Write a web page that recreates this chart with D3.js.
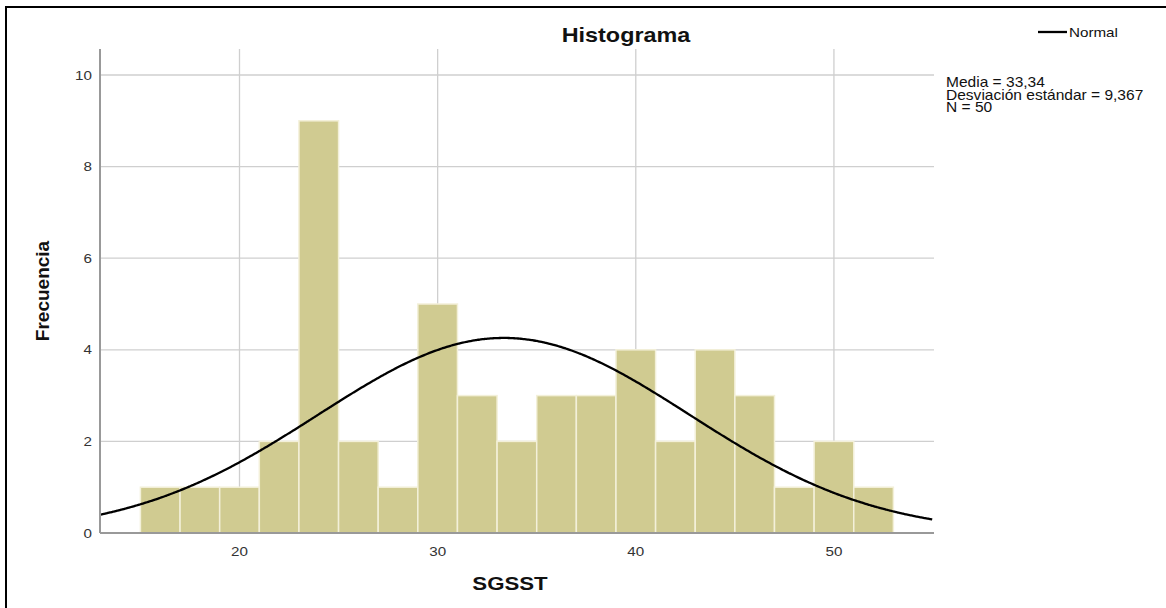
<!DOCTYPE html>
<html><head><meta charset="utf-8">
<script src="https://cdn.jsdelivr.net/npm/d3@7"></script>
<style>body{margin:0;background:#fff}svg{display:block}text{font-family:"Liberation Sans",Arial,sans-serif}</style>
</head><body>
<svg id="c" width="1166" height="608"></svg>
<script>
const binStarts = [15,17,19,21,23,25,27,29,31,33,35,37,39,41,43,45,47,49,51];
const counts    = [1,1,1,2,9,2,1,5,3,2,3,3,4,2,4,3,1,2,1];
const binWidth = 2;
const xTicks = [20,30,40,50];
const yTicks = [0,2,4,6,8,10];
const mean = 33.34, sd = 9.367, n = 50;
const statsLines = ["Media = 33,34","Desviación estándar = 9,367","N = 50"];

const SX = 1.17; // horizontal text stretch seen in the reference
const svg = d3.select("#c");
const L=100, R=934, T=49, B=533;
const x = d3.scaleLinear().domain([12.96,55.05]).range([L,R]);
const y = d3.scaleLinear().domain([0,10]).range([B,75]);

function txt(px, py, s, opts={}) {
  const t = svg.append("text")
    .attr("transform", `translate(${px},${py}) scale(${opts.sx||SX},1)`)
    .attr("text-anchor", opts.anchor||"start")
    .attr("font-size", opts.size||13)
    .attr("fill", opts.fill||"#111")
    .text(s);
  if (opts.bold) t.attr("font-weight","bold");
  return t;
}

// frame
svg.append("path").attr("d","M6,608 L6,7 L1166,7").attr("fill","none").attr("stroke","#000").attr("stroke-width",2);

// grid
const g = svg.append("g");
g.selectAll(".gy").data(yTicks.filter(d=>d>0)).join("line")
 .attr("x1",L).attr("x2",R).attr("y1",d=>y(d)).attr("y2",d=>y(d))
 .attr("stroke","#cfcfcf").attr("stroke-width",1.3);
g.selectAll(".gx").data(xTicks).join("line")
 .attr("x1",d=>x(d)).attr("x2",d=>x(d)).attr("y1",T).attr("y2",B)
 .attr("stroke","#cfcfcf").attr("stroke-width",1.3);

// bars
svg.append("g").selectAll("rect").data(binStarts).join("rect")
 .attr("x",(d)=>x(d)).attr("width",(d)=>x(d+binWidth)-x(d))
 .attr("y",(d,i)=>y(counts[i])).attr("height",(d,i)=>y(0)-y(counts[i]))
 .attr("fill","#d0cb91").attr("stroke","#f3f0d9").attr("stroke-width",1.5);

// normal curve
const curveX = d3.range(12.96,55.06,0.1);
const dens = v => n*binWidth/(sd*Math.sqrt(2*Math.PI))*Math.exp(-0.5*((v-mean)/sd)**2);
svg.append("path").datum(curveX)
 .attr("d",d3.line().x(v=>x(v)).y(v=>y(dens(v))).curve(d3.curveBasis))
 .attr("fill","none").attr("stroke","#000").attr("stroke-width",2.3);

// axes
const xa = svg.append("g").attr("transform",`translate(0,${B})`)
 .call(d3.axisBottom(x).tickValues(xTicks).tickSize(0).tickPadding(14).tickFormat(d3.format("d")));
xa.select(".domain").attr("stroke","#999").attr("stroke-width",2).attr("d",`M${L},0H${R}`);
xa.selectAll(".tick text").attr("font-size",13).attr("fill","#333")
  .attr("transform",`scale(${SX},1)`).attr("x",0);
xa.selectAll(".tick").attr("transform",d=>`translate(${x(d)},0)`);
const ya = svg.append("g").attr("transform",`translate(${L},0)`)
 .call(d3.axisLeft(y).tickValues(yTicks).tickSize(0).tickPadding(8));
ya.select(".domain").remove();
ya.append("line").attr("x1",0).attr("x2",0).attr("y1",T).attr("y2",B).attr("stroke","#999").attr("stroke-width",2);
ya.selectAll(".tick text").attr("font-size",13).attr("fill","#333")
  .attr("x",0).attr("transform",`translate(-8,0) scale(${SX},1)`);

// titles
txt(626, 42, "Histograma", {size:20, bold:true, anchor:"middle"});
txt(510, 590, "SGSST", {size:19, bold:true, anchor:"middle"});
svg.append("text").attr("transform","translate(49,291) rotate(-90)").attr("text-anchor","middle")
 .attr("font-size",19).attr("font-weight","bold").attr("fill","#111").text("Frecuencia");

// legend
svg.append("line").attr("x1",1038).attr("x2",1067).attr("y1",32).attr("y2",32).attr("stroke","#000").attr("stroke-width",2.3);
txt(1069, 36.5, "Normal", {size:13});

// stats
statsLines.forEach((s,i)=> txt(946, 87+i*12.5, s, {size:14, sx:1.11}));
</script>
</body></html>
